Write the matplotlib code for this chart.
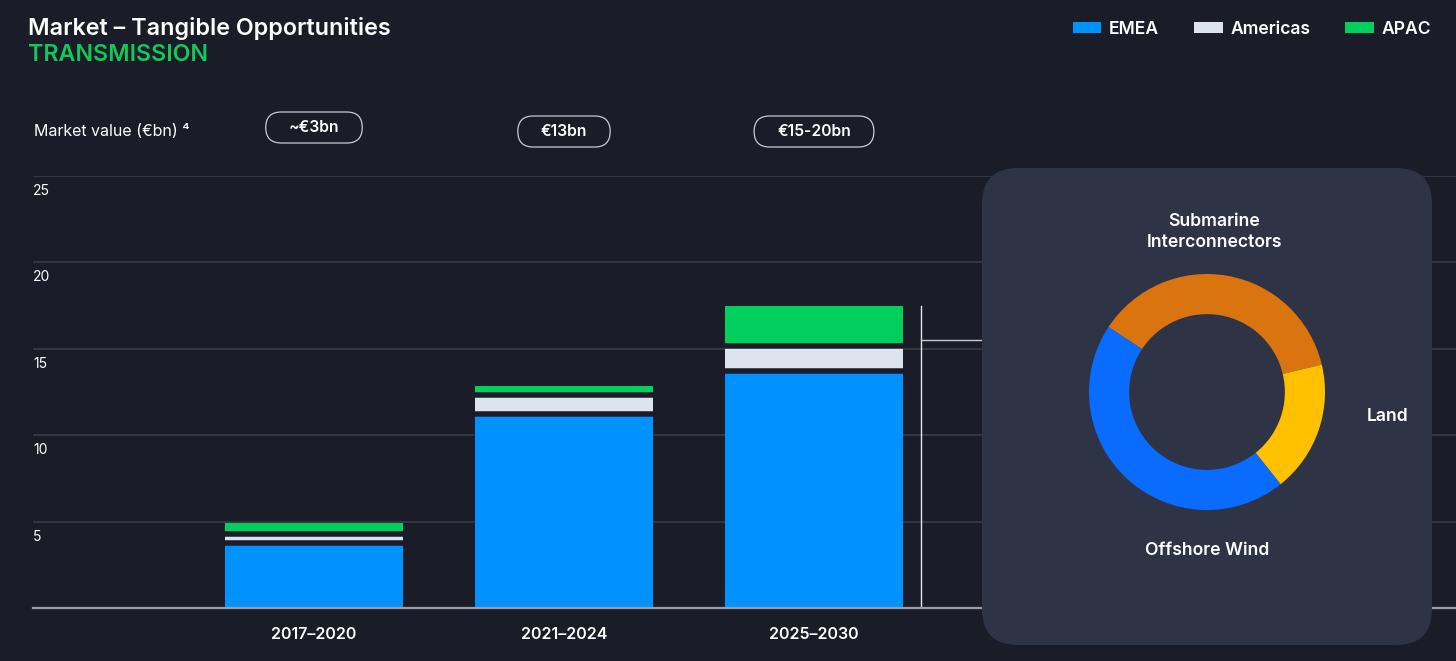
import matplotlib
matplotlib.use("Agg")
import matplotlib.pyplot as plt
import matplotlib.patches as mpatches
import matplotlib.transforms as mtransforms
import numpy as np

# ---------------- data ----------------
periods = ['2017–2020', '2021–2024', '2025–2030']
emea = [3.74, 11.24, 13.72]
americas = [0.56, 1.10, 1.43]
apac = [0.60, 0.52, 2.34]
market_labels = ['~€3bn', '€13bn', '€15-20bn']
yticks = [5, 10, 15, 20, 25]
segments = ['Submarine\nInterconnectors', 'Land', 'Offshore Wind']
shares = [37, 18, 45]

# ---------------- style ----------------
BG = '#1a1c27'
PANEL = '#2e3446'
C_EMEA = '#0092ff'
C_AM = '#dde4ee'
C_APAC = '#03cf5f'
DONUT_COLORS = ['#d9740f', '#ffc000', '#0a6bff']
GREEN_TXT = '#12c85a'
FONT = ['Inter', 'DejaVu Sans']
plt.rcParams['font.family'] = FONT

W, H = 1456, 661
fig = plt.figure(figsize=(W / 100, H / 100), dpi=100, facecolor=BG)

def px(x, y):
    return x / W, 1 - y / H

# main axes
left, right, top, bottom = 33, 1456, 176, 608
ax = fig.add_axes([left / W, 1 - bottom / H, (right - left) / W, (bottom - top) / H])
ax.set_facecolor(BG)
spacing = 250.0
x0 = 314.0
ax.set_xlim(-(x0 - left) / spacing, (right - x0) / spacing)
ax.set_ylim(0, 25)

x = np.arange(len(periods))
bw = 178 / spacing
emea_a = np.array(emea)
am_a = np.array(americas)
ap_a = np.array(apac)
ax.bar(x, emea_a, bw, color=C_EMEA, linewidth=0, zorder=3)
ax.bar(x, am_a, bw, bottom=emea_a, color=C_AM, linewidth=0, zorder=3)
ax.bar(x, ap_a, bw, bottom=emea_a + am_a, color=C_APAC, linewidth=0, zorder=3)
# dark separators between stacked segments
sep_lw = 5.5 * 72 / 100
for b in (emea_a, emea_a + am_a):
    ax.hlines(b, x - bw / 2, x + bw / 2, colors=BG, linewidth=sep_lw, zorder=3.5)

ax.set_yticks(yticks)
ax.yaxis.grid(True, color='#393c48', linewidth=1.2, zorder=0)
ax.set_axisbelow(True)
ax.tick_params(axis='y', length=0, labelleft=False)
for s in ax.spines.values():
    s.set_visible(False)
ax.axhline(0, color='#9c9ea6', linewidth=1.6, zorder=4, clip_on=False)

ax.set_xticks(x, periods)
ax.tick_params(axis='x', length=0, pad=14, labelsize=11.5, labelcolor='white')
for lab in ax.get_xticklabels():
    lab.set_fontweight('semibold')

ytrans = mtransforms.blended_transform_factory(ax.transAxes, ax.transData)
ytrans = mtransforms.offset_copy(ytrans, fig=fig, x=0, y=-15, units='dots')
for v in yticks:
    ax.text(0, v, str(v), transform=ytrans, ha='left', va='center',
            color='white', fontsize=10, clip_on=False)

# bracket lines near the third bar
xb = (921 - x0) / spacing
ax.plot([xb, xb], [0, 17.48], color='#e6e6e6', linewidth=1.0, zorder=2)
ax.plot([xb, xb + 1.0], [15.5, 15.5], color='#c9cbd0', linewidth=1.0, zorder=2)

# titles
fig.text(*px(28, 29), 'Market – Tangible Opportunities', color='white',
         fontsize=16.8, fontweight='semibold', va='center', ha='left')
fig.text(*px(28, 55), 'TRANSMISSION', color=GREEN_TXT,
         fontsize=16.7, fontweight='semibold', va='center', ha='left')
fig.text(*px(34, 131), 'Market value (€bn) ⁴', color='white',
         fontsize=11.5, va='center', ha='left')

# pills with market totals
renderer = fig.canvas.get_renderer()
pill_y = [127.5, 131.5, 131.5]
for xi, lab, py in zip(x, market_labels, pill_y):
    cx = ax.transData.transform((xi, 0))[0]
    t = fig.text(cx / W, 1 - py / H, lab, color='white', fontsize=11.3,
                 fontweight='semibold', ha='center', va='center', zorder=5)
    ext = t.get_window_extent(renderer)
    wpx = ext.width + 46
    hpx = 31
    box = mpatches.FancyBboxPatch(((cx - wpx / 2) / 100, (H - py - hpx / 2) / 100),
                                  wpx / 100, hpx / 100,
                                  boxstyle='round,pad=0,rounding_size=0.155',
                                  transform=fig.dpi_scale_trans,
                                  facecolor=BG, edgecolor='#c9cbd2', linewidth=0.9,
                                  zorder=4)
    fig.add_artist(box)

# legend
handles = [mpatches.Patch(facecolor=c, edgecolor='none') for c in (C_EMEA, C_AM, C_APAC)]
leg = fig.legend(handles, ['EMEA', 'Americas', 'APAC'], loc='upper right',
                 bbox_to_anchor=px(1431, 21), ncol=3, frameon=False,
                 handlelength=1.65, handleheight=0.6, handletextpad=0.42,
                 columnspacing=2.0, borderpad=0, borderaxespad=0,
                 prop={'family': FONT, 'weight': 'semibold', 'size': 12.6})
for txt in leg.get_texts():
    txt.set_color('white')

# donut panel
panel = mpatches.FancyBboxPatch((982 / 100, (H - 645) / 100), 450 / 100, 477 / 100,
                                boxstyle='round,pad=0,rounding_size=0.36',
                                transform=fig.dpi_scale_trans,
                                facecolor=PANEL, edgecolor='none', zorder=1)
fig.add_artist(panel)

cxp, cyp, r = 1207, 392, 118
ax2 = fig.add_axes([(cxp - r) / W, (H - cyp - r) / H, 2 * r / W, 2 * r / H])
ax2.set_zorder(2)
ax2.set_facecolor('none')
ax2.pie(shares, colors=DONUT_COLORS, startangle=146.6, counterclock=False,
        radius=1, wedgeprops=dict(width=0.34, edgecolor='none'))
ax2.set_xlim(-1, 1)
ax2.set_ylim(-1, 1)
ax2.set_axis_off()
label_pos = [(0.06, 1.355), (1.53, -0.21), (0.0, -1.34)]
for lab, (lx, ly) in zip(segments, label_pos):
    ax2.text(lx, ly, lab, color='white', fontsize=12.7, fontweight='semibold',
             ha='center', va='center', linespacing=1.35, clip_on=False)

fig.savefig('out.png', dpi=100, facecolor=BG)
